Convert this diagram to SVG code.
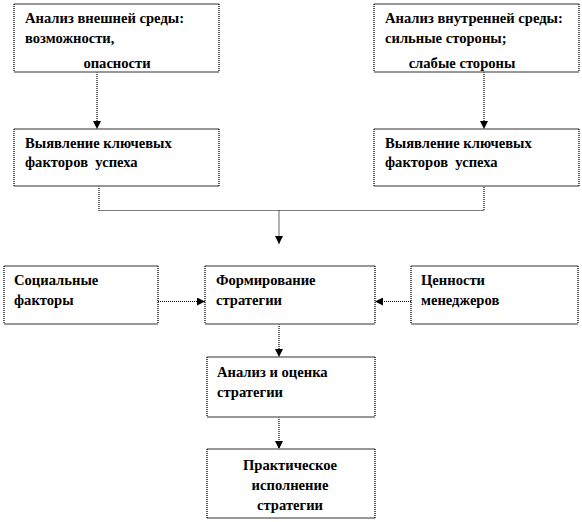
<svg xmlns="http://www.w3.org/2000/svg" width="582" height="522" viewBox="0 0 582 522">
<style>
.h{stroke:#777;stroke-width:1.3;fill:none}
.v{stroke:#000;stroke-width:1.3;stroke-dasharray:1 1;fill:none}
.c{stroke:#000;stroke-width:1.2;stroke-dasharray:1 1;fill:none}
text{font-family:"Liberation Serif","Times New Roman",serif;font-weight:bold;font-size:14.6px;fill:#000;white-space:pre}
.m{text-anchor:middle}
</style>
<defs>
<marker id="a" viewBox="0 0 10 10" refX="10" refY="5" markerWidth="8" markerHeight="8" markerUnits="userSpaceOnUse" orient="auto">
<path d="M0,0 L10,5 L0,10 z" fill="#000"/>
</marker>
</defs>
<rect width="582" height="522" fill="#fff"/>
<g id="connectors">
<path class="c" d="M97,72 V129" marker-end="url(#a)"/>
<path class="c" d="M484,72 V129" marker-end="url(#a)"/>
<path class="c" d="M99,186 V210.5 H484 V186"/>
<path class="c" d="M279,210.5 V244" marker-end="url(#a)"/>
<path class="c" d="M158,301.5 H205" marker-end="url(#a)"/>
<path class="c" d="M411,301.5 H375" marker-end="url(#a)"/>
<path class="c" d="M279,324 V357" marker-end="url(#a)"/>
<path class="c" d="M279,417 V449" marker-end="url(#a)"/>
</g>
<g id="n1">
<path class="h" d="M14,4 H219 M14,72 H219"/><path class="v" d="M14,4 V72 M219,4 V72"/>
<text x="25" y="23">Анализ внешней среды:</text>
<text x="25" y="43">возможности,</text>
<text class="m" x="117" y="68">опасности</text>
</g>
<g id="n2">
<path class="h" d="M374,4 H579 M374,72 H579"/><path class="v" d="M374,4 V72 M579,4 V72"/>
<text x="385" y="23">Анализ внутренней среды:</text>
<text x="385" y="43">сильные стороны;</text>
<text class="m" x="462" y="68">слабые стороны</text>
</g>
<g id="n3">
<path class="h" d="M14,129 H219 M14,186 H219"/><path class="v" d="M14,129 V186 M219,129 V186"/>
<text x="25" y="148">Выявление ключевых</text>
<text x="25" y="167" xml:space="preserve">факторов  успеха</text>
</g>
<g id="n4">
<path class="h" d="M374,129 H579 M374,186 H579"/><path class="v" d="M374,129 V186 M579,129 V186"/>
<text x="385" y="148">Выявление ключевых</text>
<text x="385" y="167" xml:space="preserve">факторов  успеха</text>
</g>
<g id="n5">
<path class="h" d="M4,266 H158 M4,324 H158"/><path class="v" d="M4,266 V324 M158,266 V324"/>
<text x="14" y="285">Социальные</text>
<text x="14" y="305">факторы</text>
</g>
<g id="n6">
<path class="h" d="M205,266 H375 M205,324 H375"/><path class="v" d="M205,266 V324 M375,266 V324"/>
<text x="216" y="285">Формирование</text>
<text x="216" y="305">стратегии</text>
</g>
<g id="n7">
<path class="h" d="M411,266 H578 M411,324 H578"/><path class="v" d="M411,266 V324 M578,266 V324"/>
<text x="421" y="285">Ценности</text>
<text x="421" y="305">менеджеров</text>
</g>
<g id="n8">
<path class="h" d="M207,357 H375 M207,417 H375"/><path class="v" d="M207,357 V417 M375,357 V417"/>
<text x="217" y="377">Анализ и оценка</text>
<text x="217" y="397">стратегии</text>
</g>
<g id="n9">
<path class="h" d="M207,449 H375 M207,518 H375"/><path class="v" d="M207,449 V518 M375,449 V518"/>
<text class="m" x="290" y="470">Практическое</text>
<text class="m" x="290" y="490">исполнение</text>
<text class="m" x="290" y="510">стратегии</text>
</g>
</svg>
